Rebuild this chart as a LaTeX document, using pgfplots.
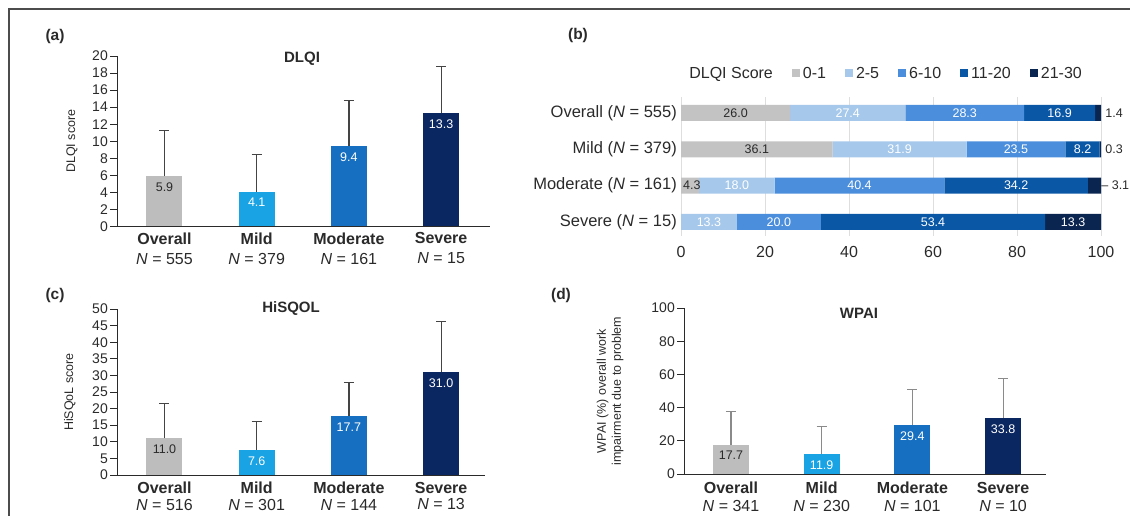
\documentclass[border=0pt]{standalone}
\usepackage{fontspec}
\setmainfont{Liberation Sans}
\usepackage{pgfplots}
\pgfplotsset{compat=1.18}
\usepackage{pgfplotstable}

\definecolor{cgray}{HTML}{BDBDBD}
\definecolor{cmild}{HTML}{19A3E4}
\definecolor{cmod}{HTML}{176FC1}
\definecolor{csev}{HTML}{0B2761}
\definecolor{bA}{HTML}{C3C3C3}
\definecolor{bB}{HTML}{A6C8EA}
\definecolor{bC}{HTML}{4B8EDB}
\definecolor{bD}{HTML}{0A57A6}
\definecolor{bE}{HTML}{0B2551}
\definecolor{txt}{HTML}{2A2A2A}
\definecolor{ebdark}{HTML}{444444}
\definecolor{eblight}{HTML}{8A8A8A}

\pgfplotsset{
  catbar/.style={
    scale only axis, anchor=south west,
    ybar, bar width=36pt, bar shift=0pt,
    axis lines*=left,
    axis line style={draw=txt, line width=0.9pt},
    xtick={0,1,2,3}, x tick style={draw=none},
    y tick style={draw=txt, line width=0.9pt},
    tick align=outside, major tick length=7pt,
    ymin=0, enlarge x limits=false,
    /pgf/number format/assume math mode=true,
    yticklabel style={font=\fontsize{14}{16}\selectfont, text=txt, inner sep=2pt},
    xticklabel style={align=center, text=txt, inner sep=0pt},
    ylabel style={font=\fontsize{12.5}{15}\selectfont, text=txt, anchor=center, align=center},
    nodes near coords={\pgfmathprintnumber[fixed,fixed zerofill,precision=1]{\pgfplotspointmeta}},
    nodes near coords style={font=\fontsize{12.5}{14}\selectfont, anchor=north, yshift=-6.5pt, inner sep=0pt},
  },
  eb/.style={error bars/.cd, y dir=plus, y explicit,
    error bar style={draw=#1, line width=1.2pt},
    error mark options={rotate=90, draw=#1, mark size=5pt, line width=1.2pt}},
}

\pgfplotstableread[col sep=comma]{
x,y,lab
13.0,3,26.0
18.05,2,36.1
2.6,1,4.3
103.1,3,1.4
103.1,2,0.3
103.4,1,– 3.1
}\darklabels

\pgfplotstableread[col sep=comma]{
x,y,lab
39.7,3,27.4
67.55,3,28.3
90.15,3,16.9
52.05,2,31.9
79.75,2,23.5
95.6,2,8.2
13.3,1,18.0
42.5,1,40.4
79.8,1,34.2
6.65,0,13.3
23.3,0,20.0
60.0,0,53.4
93.35,0,13.3
}\whitelabels

\begin{document}
\begin{tikzpicture}[x=1pt,y=1pt]
\useasboundingbox (0,0) rectangle (1130,516);
\draw[draw=black!70, line width=1.3pt] (9,0) -- (9,507) -- (1130,507);

% ---------------- (a) DLQI
\begin{axis}[catbar, at={(117pt,289.5pt)}, width=373pt, height=170.5pt,
  xmin=-0.515, xmax=3.53, ymax=20, ytick={0,2,...,20},
  xticklabel style={font=\fontsize{16}{20}\selectfont, yshift=1pt},
  xticklabels={{\textbf{Overall}\\\textit{N} = 555},{\textbf{Mild}\\\textit{N} = 379},{\textbf{Moderate}\\\textit{N} = 161},{\textbf{Severe}\\\textit{N} = 15}},
  ylabel={DLQI score}, ylabel style={at={(axis description cs:-0.1206,0.5)}}]
\addplot[fill=cgray, draw=none, every node near coord/.append style={text=txt}, eb=ebdark] coordinates {(0,5.9) +- (0,5.4)};
\addplot[fill=cmild, draw=none, every node near coord/.append style={text=white}, eb=ebdark] coordinates {(1,4.1) +- (0,4.3)};
\addplot[fill=cmod, draw=none, every node near coord/.append style={text=white}, eb=ebdark] coordinates {(2,9.4) +- (0,5.4)};
\addplot[fill=csev, draw=none, every node near coord/.append style={text=white}, eb=ebdark] coordinates {(3,13.3) +- (0,5.5)};
\end{axis}

% ---------------- (c) HiSQOL
\begin{axis}[catbar, at={(117pt,41pt)}, width=368pt, height=166pt,
  xmin=-0.515, xmax=3.476, ymax=50, ytick={0,5,...,50},
  xticklabel style={font=\fontsize{16}{16.5}\selectfont, yshift=0pt},
  xticklabels={{\textbf{Overall}\\\textit{N} = 516},{\textbf{Mild}\\\textit{N} = 301},{\textbf{Moderate}\\\textit{N} = 144},{\textbf{Severe}\\\textit{N} = 13}},
  ylabel={HiSQoL score}, ylabel style={at={(axis description cs:-0.128,0.5)}}]
\addplot[fill=cgray, draw=none, every node near coord/.append style={text=txt}, eb=ebdark] coordinates {(0,11.0) +- (0,10.5)};
\addplot[fill=cmild, draw=none, every node near coord/.append style={text=white}, eb=ebdark] coordinates {(1,7.6) +- (0,8.6)};
\addplot[fill=cmod, draw=none, every node near coord/.append style={text=white}, eb=ebdark] coordinates {(2,17.7) +- (0,10.1)};
\addplot[fill=csev, draw=none, every node near coord/.append style={text=white}, eb=ebdark] coordinates {(3,31.0) +- (0,15.2)};
\end{axis}

% ---------------- (d) WPAI
\begin{axis}[catbar, at={(684pt,42pt)}, width=362pt, height=166pt,
  xmin=-0.518, xmax=3.473, ymax=100, ytick={0,20,...,100},
  xticklabel style={font=\fontsize{16}{18}\selectfont, yshift=-1pt},
  xticklabels={{\textbf{Overall}\\\textit{N} = 341},{\textbf{Mild}\\\textit{N} = 230},{\textbf{Moderate}\\\textit{N} = 101},{\textbf{Severe}\\\textit{N} = 10}},
  ylabel={WPAI (\%) overall work\\impairment due to problem}, ylabel style={at={(axis description cs:-0.204,0.5)}}]
\addplot[fill=cgray, draw=none, every node near coord/.append style={text=txt}, eb=eblight] coordinates {(0,17.7) +- (0,19.8)};
\addplot[fill=cmild, draw=none, every node near coord/.append style={text=white}, eb=eblight] coordinates {(1,11.9) +- (0,16.6)};
\addplot[fill=cmod, draw=none, every node near coord/.append style={text=white}, eb=eblight] coordinates {(2,29.4) +- (0,21.6)};
\addplot[fill=csev, draw=none, every node near coord/.append style={text=white}, eb=eblight] coordinates {(3,33.8) +- (0,23.8)};
\end{axis}

% ---------------- (b) stacked
\begin{axis}[scale only axis, anchor=south west, at={(681pt,280pt)}, width=420pt, height=139pt,
  xbar stacked, bar width=16pt,
  xmin=0, xmax=100, ymin=-0.386, ymax=3.44,
  ytick={0,1,2,3},
  yticklabels={Severe (\textit{N} = 15),Moderate (\textit{N} = 161),Mild (\textit{N} = 379),Overall (\textit{N} = 555)},
  xtick={0,20,...,100},
  xmajorgrids, grid style={draw=black!13, line width=0.8pt},
  axis line style={draw=none}, tick style={draw=none}, major tick length=0pt,
  /pgf/number format/assume math mode=true,
  yticklabel style={font=\fontsize{16.5}{18}\selectfont, text=txt, inner sep=0pt, xshift=-4pt},
  xticklabel style={font=\fontsize{16}{18}\selectfont, text=txt, inner sep=0pt, yshift=-10pt},
  legend columns=-1,
  legend style={draw=none, fill=none, at={(0.005,1.17)}, anchor=west,
    font=\fontsize{16}{18}\selectfont, text=txt,
    /tikz/every odd column/.append style={column sep=1pt},
    /tikz/every even column/.append style={column sep=17pt}},
  legend image code/.code={\fill[#1] (0pt,-4pt) rectangle (8pt,4pt);},
  legend cell align=left]
\addlegendimage{empty legend}
\addlegendentry{DLQI Score}
\addplot[fill=bA, draw=none] coordinates {(0,0) (4.3,1) (36.1,2) (26.0,3)};
\addlegendentry{0-1}
\addplot[fill=bB, draw=none] coordinates {(13.3,0) (18.0,1) (31.9,2) (27.4,3)};
\addlegendentry{2-5}
\addplot[fill=bC, draw=none] coordinates {(20.0,0) (40.4,1) (23.5,2) (28.3,3)};
\addlegendentry{6-10}
\addplot[fill=bD, draw=none] coordinates {(53.4,0) (34.2,1) (8.2,2) (16.9,3)};
\addlegendentry{11-20}
\addplot[fill=bE, draw=none] coordinates {(13.3,0) (3.1,1) (0.3,2) (1.4,3)};
\addlegendentry{21-30}
\end{axis}

\begin{axis}[scale only axis, anchor=south west, at={(681pt,280pt)}, width=420pt, height=139pt,
  xmin=0, xmax=100, ymin=-0.386, ymax=3.44, hide axis, clip=false]
\addplot[draw=none, nodes near coords, point meta=explicit symbolic,
  nodes near coords style={anchor=center, inner sep=0pt, font=\fontsize{12.5}{14}\selectfont, text=txt}]
  table[x=x, y=y, meta=lab] {\darklabels};
\addplot[draw=none, nodes near coords, point meta=explicit symbolic,
  nodes near coords style={anchor=center, inner sep=0pt, font=\fontsize{12.5}{14}\selectfont, text=white}]
  table[x=x, y=y, meta=lab] {\whitelabels};
\end{axis}

% panel letters and titles
\node[font=\bfseries\fontsize{15.5}{18}\selectfont, text=txt] at (55,479) {(a)};
\node[font=\bfseries\fontsize{15.5}{18}\selectfont, text=txt] at (578,480) {(b)};
\node[font=\bfseries\fontsize{15.5}{18}\selectfont, text=txt] at (55,221) {(c)};
\node[font=\bfseries\fontsize{15.5}{18}\selectfont, text=txt] at (561,221) {(d)};
\node[font=\bfseries\fontsize{15}{17}\selectfont, text=txt] at (302,457) {DLQI};
\node[font=\bfseries\fontsize{15}{17}\selectfont, text=txt] at (291,207) {HiSQOL};
\node[font=\bfseries\fontsize{15}{17}\selectfont, text=txt] at (859,203) {WPAI};
\end{tikzpicture}
\end{document}
